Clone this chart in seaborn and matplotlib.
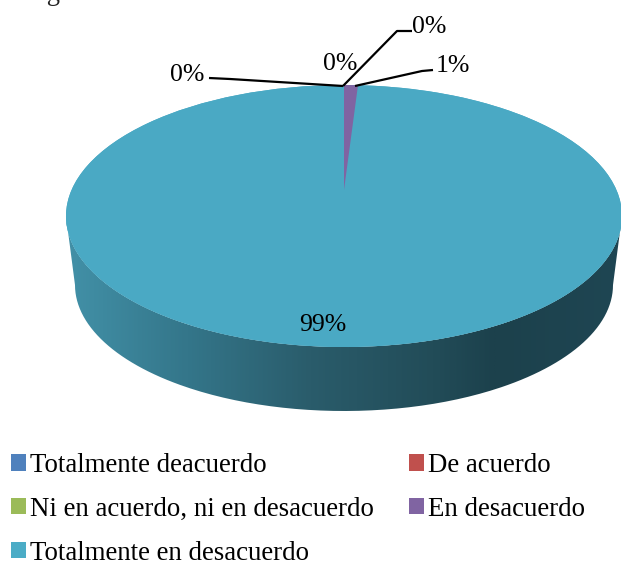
import numpy as np
import matplotlib
matplotlib.use("Agg")
import matplotlib.pyplot as plt
from matplotlib.colors import LinearSegmentedColormap
from matplotlib.patches import Ellipse, Patch, PathPatch
from matplotlib.path import Path
import seaborn as sns

categories = ["Totalmente deacuerdo", "De acuerdo", "Ni en acuerdo, ni en desacuerdo",
              "En desacuerdo", "Totalmente en desacuerdo"]
values = [0, 0, 0, 1, 99]
colors = ["#4F81BD", "#C0504D", "#9BBB59", "#8064A2", "#4BACC6"]
top_color = "#4AA9C4"

sns.set_theme(style="white")
plt.rcParams["font.family"] = ["Liberation Serif", "DejaVu Serif"]

W, H = 621, 561
CX, CY, RX, RY = 344, 216, 278, 131
fig = plt.figure(figsize=(W / 100, H / 100), dpi=100)
ax = fig.add_axes([0, 0, 1, 1])
pal = sns.color_palette(colors)


def px(x, y):
    return (x - CX) / RX, (CY - y) / RY


# side of the disc
t = np.linspace(np.pi, 2 * np.pi, 200)
top_arc = np.column_stack([CX + RX * np.cos(t), CY - RY * np.sin(t)])
bot_arc = np.column_stack([CX + 269 * np.cos(t), 285 - 126 * np.sin(t)])[::-1]
side_px = np.vstack([top_arc, bot_arc, top_arc[:1]])
side = np.column_stack(px(side_px[:, 0], side_px[:, 1]))
side_patch = PathPatch(Path(side), fc="none", ec="none", zorder=1)
ax.add_patch(side_patch)
cmap = LinearSegmentedColormap.from_list("side", [
    (0.00, "#4A9DB6"), (0.15, "#3F8BA1"), (0.30, "#34768A"),
    (0.50, "#2A5C6B"), (0.70, "#224C58"), (0.80, "#1C414C"), (1.00, "#1F4653")])
x0, _ = px(0, 0)
x1, _ = px(W, 0)
y0, y1 = px(0, 420)[1], px(0, 210)[1]
img = ax.imshow(np.linspace(0, 1, 400)[None, :], extent=(x0, x1, y0, y1), cmap=cmap,
                aspect="auto", zorder=1, interpolation="bilinear")
img.set_clip_path(side_patch)

# top face
ax.add_patch(Ellipse((0, 0), 2, 2, fc=top_color, ec="none", zorder=2))
wedges, _ = ax.pie(values, colors=pal, startangle=90, counterclock=False, radius=1,
                   wedgeprops={"linewidth": 0, "zorder": 3})
wedges[4].set_facecolor(top_color)
apex = px(CX, 190)[1]
wedges[3].set_center((0, apex))
wedges[3].set_radius(1 - apex)
wedges[3].set_zorder(4)

ax.set_aspect("auto")
ax.set_xlim(x0, x1)
ax.set_ylim(px(0, H)[1], px(0, 0)[1])
ax.axis("off")

# leader lines
leaders = [[(209, 78), (230, 79), (343, 86)],
           [(343, 86), (397, 31), (412, 31)],
           [(355, 86), (422, 71), (433, 70)]]
for pts in leaders:
    xs, ys = zip(*[px(*p) for p in pts])
    ax.plot(xs, ys, color="black", lw=1.6, zorder=5, solid_capstyle="butt")

# value labels
label_pos = [(187, 75), (340, 64), (429, 27), (453, 66), (323, 325)]
for v, p in zip(values, label_pos):
    ax.text(*px(*p), f"{v}%", ha="center", va="center", fontsize=18.5, color="black", zorder=6)

# clipped caption line at the very top
fig.text(21 / W, 1 + 6 / H, "la gestión del docente en el aula.", fontsize=19.2, ha="left",
         va="center", color="#222222")

order = [0, 2, 4, 1, 3]
handles = [Patch(fc=pal[i], ec="none") for i in order]
leg = ax.legend(handles, [categories[i] for i in order], ncol=2, frameon=False,
                fontsize=19.4, loc="lower left", bbox_to_anchor=(-13 / W, -29 / H),
                bbox_transform=fig.transFigure, handlelength=0.55, handleheight=0.55,
                handletextpad=0.15, labelspacing=0.7, columnspacing=1.3, labelcolor="black")

fig.savefig("out.png", dpi=100)
